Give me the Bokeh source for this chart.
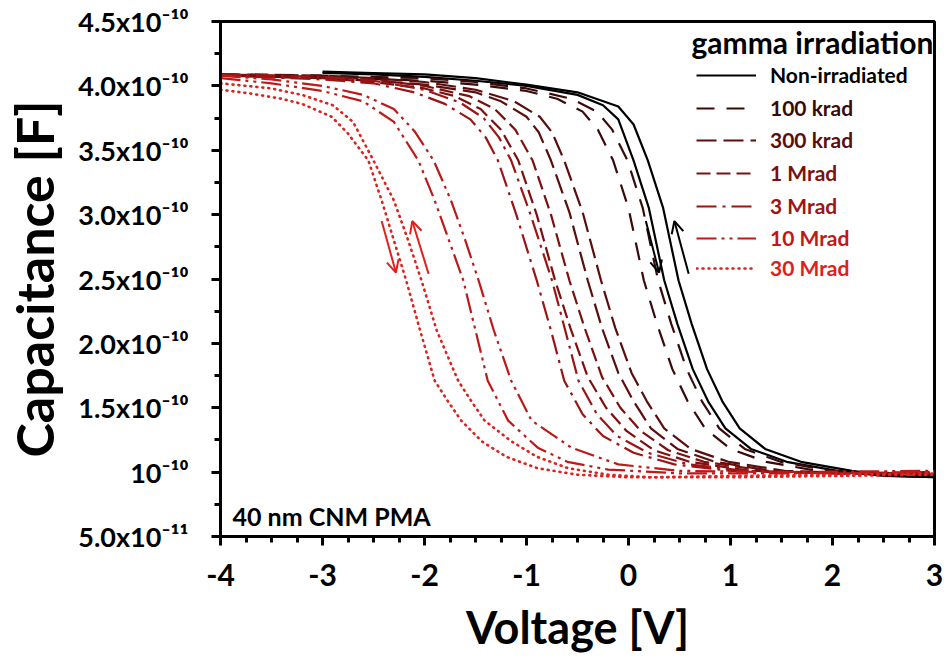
import numpy as np
from bokeh.plotting import figure
from bokeh.models import (Range1d, FixedTicker, Legend, LegendItem, Label, Arrow,
                          OpenHead, ColumnDataSource)
from bokeh.embed import file_html
from bokeh.resources import INLINE

# ---------------- data (capacitance in units of 1e-10 F) ----------------
doses = ["Non-irradiated", "100 krad", "300 krad", "1 Mrad", "3 Mrad", "10 Mrad", "30 Mrad"]

non_fwd_v = [-3.0, -2.5, -2.0, -1.5, -1.0, -0.5, -0.25, -0.10, 0.05, 0.20, 0.35, 0.48, 0.63, 0.78, 0.95, 1.20, 1.55, 2.05, 2.5, 3.0]
non_fwd_c = [4.10, 4.09, 4.07, 4.04, 4.00, 3.93, 3.85, 3.74, 3.42, 3.05, 2.49, 2.15, 1.80, 1.55, 1.34, 1.18, 1.08, 1.01, 0.97, 0.96]
non_rev_v = [-3.0, -2.5, -2.0, -1.5, -1.0, -0.5, -0.10, 0.05, 0.19, 0.34, 0.49, 0.62, 0.77, 0.92, 1.09, 1.34, 1.69, 2.19, 2.6, 3.0]
non_rev_c = [4.11, 4.10, 4.09, 4.06, 4.01, 3.95, 3.84, 3.70, 3.42, 3.05, 2.49, 2.15, 1.80, 1.55, 1.34, 1.18, 1.08, 1.01, 0.97, 0.96]

k100_fwd_v = [-4.0, -3.0, -2.0, -1.5, -1.0, -0.70, -0.45, -0.30, -0.15, 0.00, 0.15, 0.28, 0.43, 0.58, 0.75, 1.00, 1.35, 1.85, 2.5, 3.0]
k100_fwd_c = [4.08, 4.07, 4.04, 4.01, 3.96, 3.90, 3.80, 3.66, 3.42, 3.05, 2.49, 2.15, 1.80, 1.55, 1.34, 1.18, 1.08, 1.01, 0.98, 0.98]
k100_rev_v = [-4.0, -3.0, -2.0, -1.5, -1.0, -0.56, -0.31, -0.16, -0.01, 0.14, 0.29, 0.42, 0.57, 0.72, 0.89, 1.14, 1.49, 1.99, 2.5, 3.0]
k100_rev_c = [4.09, 4.08, 4.06, 4.03, 3.98, 3.90, 3.80, 3.66, 3.42, 3.05, 2.49, 2.15, 1.80, 1.55, 1.34, 1.18, 1.08, 1.01, 0.98, 0.98]

k300_fwd_v = [-4.0, -3.0, -2.5, -2.0, -1.5, -1.25, -1.00, -0.88, -0.76, -0.58, -0.40, -0.26, -0.10, 0.05, 0.22, 0.48, 0.85, 1.40, 2.2, 3.0]
k300_fwd_c = [4.08, 4.06, 4.04, 4.01, 3.95, 3.88, 3.76, 3.64, 3.42, 3.02, 2.49, 2.12, 1.77, 1.55, 1.34, 1.18, 1.08, 1.01, 0.99, 0.99]
k300_rev_v = [-4.0, -3.0, -2.5, -2.0, -1.5, -1.12, -0.87, -0.75, -0.63, -0.45, -0.27, -0.13, 0.03, 0.18, 0.35, 0.61, 0.98, 1.53, 2.3, 3.0]
k300_rev_c = [4.09, 4.08, 4.06, 4.03, 3.97, 3.88, 3.76, 3.64, 3.42, 3.02, 2.49, 2.12, 1.77, 1.55, 1.34, 1.18, 1.08, 1.01, 0.99, 0.99]

m1_fwd_v = [-4.0, -3.0, -2.5, -2.0, -1.70, -1.45, -1.25, -1.08, -0.90, -0.72, -0.57, -0.40, -0.22, -0.02, 0.25, 0.60, 1.20, 2.0, 3.0]
m1_fwd_c = [4.08, 4.06, 4.03, 3.98, 3.92, 3.82, 3.66, 3.42, 3.00, 2.49, 2.12, 1.74, 1.50, 1.32, 1.17, 1.08, 1.01, 0.99, 0.99]
m1_rev_v = [-4.0, -3.0, -2.5, -2.0, -1.56, -1.31, -1.11, -0.94, -0.76, -0.58, -0.43, -0.26, -0.08, 0.12, 0.39, 0.74, 1.34, 2.1, 3.0]
m1_rev_c = [4.09, 4.07, 4.05, 4.00, 3.92, 3.82, 3.66, 3.42, 3.00, 2.49, 2.12, 1.74, 1.50, 1.32, 1.17, 1.08, 1.01, 0.99, 1.00]

m3_fwd_v = [-4.0, -3.0, -2.5, -2.1, -1.80, -1.55, -1.40, -1.28, -1.10, -0.90, -0.76, -0.63, -0.45, -0.25, 0.05, 0.45, 1.00, 2.0, 3.0]
m3_fwd_c = [4.08, 4.05, 4.02, 3.95, 3.86, 3.74, 3.60, 3.42, 3.00, 2.49, 2.10, 1.71, 1.45, 1.28, 1.15, 1.06, 1.01, 0.99, 0.99]
m3_rev_v = [-4.0, -3.0, -2.5, -2.0, -1.65, -1.42, -1.27, -1.15, -0.96, -0.75, -0.62, -0.49, -0.31, -0.11, 0.19, 0.59, 1.15, 2.0, 3.0]
m3_rev_c = [4.09, 4.07, 4.04, 3.97, 3.87, 3.75, 3.60, 3.42, 3.00, 2.49, 2.10, 1.71, 1.45, 1.28, 1.15, 1.06, 1.01, 0.99, 1.00]

m10_fwd_v = [-4.0, -3.5, -3.0, -2.6, -2.3, -2.06, -1.90, -1.76, -1.62, -1.50, -1.38, -1.18, -0.89, -0.60, -0.20, 0.5, 1.5, 3.0]
m10_fwd_c = [4.06, 4.02, 3.96, 3.88, 3.72, 3.42, 3.11, 2.80, 2.49, 2.10, 1.71, 1.40, 1.19, 1.08, 1.02, 0.99, 0.99, 1.00]
m10_rev_v = [-4.0, -3.5, -3.0, -2.6, -2.3, -2.10, -1.91, -1.74, -1.60, -1.47, -1.32, -1.15, -0.95, -0.56, -0.10, 0.5, 1.5, 3.0]
m10_rev_c = [4.08, 4.05, 4.00, 3.93, 3.82, 3.65, 3.42, 3.11, 2.80, 2.49, 2.10, 1.71, 1.40, 1.19, 1.06, 1.01, 1.00, 1.01]

m30_fwd_v = [-4.0, -3.7, -3.4, -3.2, -2.91, -2.75, -2.55, -2.42, -2.30, -2.18, -2.05, -1.90, -1.77, -1.64, -1.44, -1.20, -0.89, -0.50, 0.0, 1.0, 2.0, 3.0]
m30_fwd_c = [3.97, 3.94, 3.90, 3.86, 3.76, 3.63, 3.42, 3.11, 2.80, 2.49, 2.12, 1.71, 1.55, 1.40, 1.24, 1.12, 1.03, 0.98, 0.96, 0.96, 0.97, 0.98]
m30_rev_v = [-4.0, -3.5, -3.2, -2.9, -2.7, -2.50, -2.30, -2.16, -2.03, -1.88, -1.67, -1.54, -1.41, -1.15, -0.90, -0.59, -0.20, 0.22, 1.0, 2.0, 3.0]
m30_rev_c = [4.02, 3.98, 3.93, 3.85, 3.72, 3.42, 3.11, 2.80, 2.49, 2.10, 1.71, 1.55, 1.40, 1.24, 1.12, 1.03, 0.98, 0.96, 0.97, 0.98, 0.99]

sweeps_v = [[non_fwd_v, non_rev_v], [k100_fwd_v, k100_rev_v], [k300_fwd_v, k300_rev_v],
            [m1_fwd_v, m1_rev_v], [m3_fwd_v, m3_rev_v], [m10_fwd_v, m10_rev_v], [m30_fwd_v, m30_rev_v]]
sweeps_c = [[non_fwd_c, non_rev_c], [k100_fwd_c, k100_rev_c], [k300_fwd_c, k300_rev_c],
            [m1_fwd_c, m1_rev_c], [m3_fwd_c, m3_rev_c], [m10_fwd_c, m10_rev_c], [m30_fwd_c, m30_rev_c]]

y_ticks = [0.5, 1.0, 1.5, 2.0, 2.5, 3.0, 3.5, 4.0, 4.5]
y_tick_labels = ["5.0x10\u207b\u00b9\u00b9", "10\u207b\u00b9\u2070", "1.5x10\u207b\u00b9\u2070",
                 "2.0x10\u207b\u00b9\u2070", "2.5x10\u207b\u00b9\u2070", "3.0x10\u207b\u00b9\u2070",
                 "3.5x10\u207b\u00b9\u2070", "4.0x10\u207b\u00b9\u2070", "4.5x10\u207b\u00b9\u2070"]
x_ticks = [-4, -3, -2, -1, 0, 1, 2, 3]
x_tick_labels = ["-4", "-3", "-2", "-1", "0", "1", "2", "3"]

# sweep-direction arrows: (v_start, c_start, v_end, c_end)
red_arrows = [(-2.42, 2.95, -2.28, 2.55), (-1.96, 2.54, -2.12, 2.95)]
black_arrows = [(0.17, 2.95, 0.30, 2.55), (0.59, 2.54, 0.45, 2.95)]

# ---------------- style ----------------
colors = ["#000000", "#3a0a0a", "#5a0e0e", "#7c1010", "#9c1414", "#bf1818", "#e0201c"]
dashes = ["solid", "18 12", "20 7", "14 6", "20 6 3 6", "20 5 3 5 3 5", "1 5"]
FONT = "Lato"

p = figure(width=948, height=659, output_backend="svg", toolbar_location=None,
           x_range=Range1d(-4, 3), y_range=Range1d(0.5, 4.5),
           min_border_left=219, min_border_right=14, min_border_top=21, min_border_bottom=123)
p.grid.visible = False
p.outline_line_color = "black"
p.outline_line_width = 3
p.background_fill_color = "white"
p.border_fill_color = "white"

renderers = []
for i in range(len(doses)):
    src = ColumnDataSource(dict(xs=sweeps_v[i], ys=sweeps_c[i]))
    r = p.multi_line("xs", "ys", source=src, line_color=colors[i],
                     line_width=2.6 if i == 6 else 2.2,
                     line_dash=dashes[i], line_cap="round" if i == 6 else "butt")
    renderers.append(r)

for (x0, y0, x1, y1) in red_arrows:
    p.add_layout(Arrow(x_start=x0, y_start=y0, x_end=x1, y_end=y1, line_color="#e0201c", line_width=2,
                       end=OpenHead(size=12, line_color="#e0201c", line_width=2)))
for (x0, y0, x1, y1) in black_arrows:
    p.add_layout(Arrow(x_start=x0, y_start=y0, x_end=x1, y_end=y1, line_color="black", line_width=2,
                       end=OpenHead(size=12, line_color="black", line_width=2)))

# axes
for ax in (p.xaxis[0], p.yaxis[0]):
    ax.axis_line_width = 3
    ax.major_tick_line_width = 3
    ax.minor_tick_line_width = 3
    ax.major_tick_in = 0
    ax.major_tick_out = 9
    ax.minor_tick_in = 0
    ax.minor_tick_out = 6
    ax.major_label_text_font = FONT
    ax.major_label_text_font_style = "bold"
    ax.axis_label_text_font = FONT
    ax.axis_label_text_font_style = "bold"
    ax.axis_label_text_color = "black"
    ax.major_label_text_color = "black"

p.xaxis.ticker = FixedTicker(ticks=x_ticks, minor_ticks=list(np.arange(-4, 3.01, 0.25)))
p.yaxis.ticker = FixedTicker(ticks=y_ticks, minor_ticks=list(np.arange(0.5, 4.51, 0.25)))
p.xaxis.major_label_overrides = {t: s for t, s in zip(x_ticks, x_tick_labels)}
p.yaxis.major_label_overrides = {t: s for t, s in zip(y_ticks, y_tick_labels)}
p.xaxis.major_label_text_font_size = "30px"
p.yaxis.major_label_text_font_size = "27px"
p.xaxis.major_label_standoff = 18
p.yaxis.major_label_standoff = 23
p.xaxis.axis_label = "Voltage [V]"
p.yaxis.axis_label = "Capacitance [F]"
p.xaxis.axis_label_text_font_size = "45px"
p.yaxis.axis_label_text_font_size = "52px"
p.xaxis.axis_label_standoff = 11
p.yaxis.axis_label_standoff = 10

# legend: one block per dose so each label keeps its own colour
legend_y = [449, 416, 384, 351, 318, 286, 256]
for i in range(len(doses)):
    leg = Legend(items=[LegendItem(label=doses[i], renderers=[renderers[i]])],
                 location=(476, legend_y[i]), orientation="vertical",
                 glyph_width=60, glyph_height=20, label_height=20, label_standoff=14,
                 padding=0, margin=0, spacing=0, border_line_color=None,
                 background_fill_alpha=0, label_text_font=FONT, label_text_font_style="bold",
                 label_text_font_size="21px", label_text_color=colors[i])
    p.add_layout(leg)

p.add_layout(Label(x=713, y=495, x_units="screen", y_units="screen", text="gamma irradiation",
                   text_font=FONT, text_font_style="bold", text_font_size="30px",
                   text_align="right", text_baseline="alphabetic", text_color="black"))
p.add_layout(Label(x=12, y=21, x_units="screen", y_units="screen", text="40 nm CNM PMA",
                   text_font=FONT, text_font_style="bold", text_font_size="25px",
                   text_align="left", text_baseline="alphabetic", text_color="black"))

open("out.html", "w").write(file_html(p, INLINE))
